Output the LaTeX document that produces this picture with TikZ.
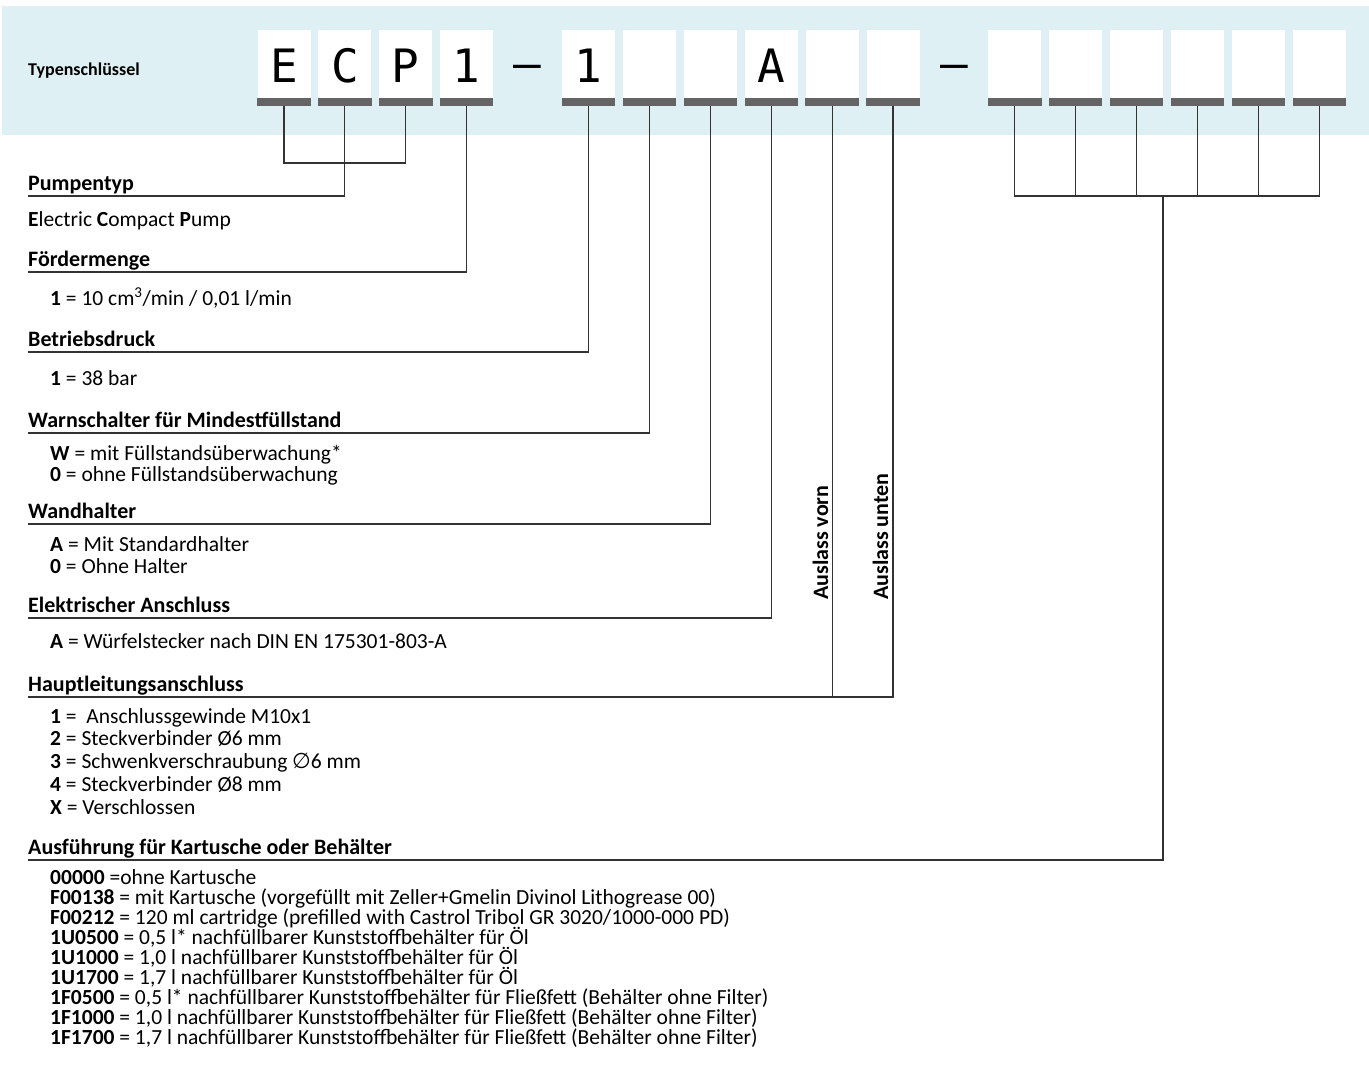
\documentclass[tikz,border=0pt]{standalone}
\usepackage{fontspec}
\setmainfont{Carlito}
\newfontfamily\keyfont{DejaVu Sans Mono}
\newfontfamily\dsym{DejaVu Sans}
\definecolor{bandc}{HTML}{DFF0F4}
\definecolor{barc}{HTML}{646464}
\definecolor{linec}{HTML}{333333}
\begin{document}
\begin{tikzpicture}[x=1pt,y=-1pt,
  keybox/.style={fill=white, minimum width=53pt, minimum height=76pt, inner sep=0, anchor=north},
  conn/.style={draw=linec, line width=1.1pt},
  head/.style={anchor=base west, inner sep=0, font=\fontsize{22}{24}\selectfont\bfseries},
  item/.style={anchor=base west, inner sep=0, font=\fontsize{21.5}{24}\selectfont},
  keych/.style={anchor=base, inner sep=0, font=\keyfont\fontsize{46}{50}\selectfont}]
\useasboundingbox (0,0) rectangle (1369,1073);
\fill[bandc] (2,6) rectangle (1369,135);
\node[anchor=base west, inner sep=0, font=\fontsize{18}{20}\selectfont\bfseries] (ts) at (28,76) {Typenschlüssel};
% key boxes
\foreach \i in {0,1,2,3,5,6,7,8,9,10,12,13,14,15,16,17} {
  \node[keybox] (b\i) at ({284+60.9*\i},30) {};
  \fill[barc] ([yshift=8pt]b\i.south west) rectangle (b\i.south east);
}
\foreach \i/\t in {0/E,1/C,2/P,3/1,5/1,8/A} {
  \node[keych] (c\i) at ({284+60.9*\i},83) {\t};
}
\node[keych] (d1) at ({284+60.9*4},80) {–};
\node[keych] (d2) at ({284+60.9*11},80) {–};
% headings
\node[head] (h1) at (28,190) {Pumpentyp};
\node[item] (t1) at (28,226) {\textbf{E}lectric \textbf{C}ompact \textbf{P}ump};
\node[head] (h2) at (28,266) {Fördermenge};
\node[item] (t2) at (50,305) {\textbf{1} = 10 cm\textsuperscript{3}/min / 0,01 l/min};
\node[head] (h3) at (28,346) {Betriebsdruck};
\node[item] (t3) at (50,385) {\textbf{1} = 38 bar};
\node[head] (h4) at (28,427) {Warnschalter für Mindestfüllstand};
\node[item] (t4a) at (50,460) {\textbf{W} = mit Füllstandsüberwachung*};
\node[item] (t4b) at (50,481) {\textbf{0} = ohne Füllstandsüberwachung};
\node[head] (h5) at (28,518) {Wandhalter};
\node[item] (t5a) at (50,551) {\textbf{A} = Mit Standardhalter};
\node[item] (t5b) at (50,573) {\textbf{0} = Ohne Halter};
\node[head] (h6) at (28,612) {Elektrischer Anschluss};
\node[item] (t6) at (50,648) {\textbf{A} = Würfelstecker nach DIN EN 175301-803-A};
\node[head] (h7) at (28,691) {Hauptleitungsanschluss};
\node[item] (t7a) at (50,723) {\textbf{1} = \ Anschlussgewinde M10x1};
\node[item] (t7b) at (50,745) {\textbf{2} = Steckverbinder Ø6 mm};
\node[item] (t7c) at (50,768) {\textbf{3} = Schwenkverschraubung {\dsym ∅}6 mm};
\node[item] (t7d) at (50,791) {\textbf{4} = Steckverbinder Ø8 mm};
\node[item] (t7e) at (50,814) {\textbf{X} = Verschlossen};
\node[head] (h8) at (28,854) {Ausführung für Kartusche oder Behälter};
\node[item] (t8a) at (50,884) {\textbf{00000} =ohne Kartusche};
\node[item] (t8b) at (50,904) {\textbf{F00138} = mit Kartusche (vorgefüllt mit Zeller+Gmelin Divinol Lithogrease 00)};
\node[item] (t8c) at (50,924) {\textbf{F00212} = 120 ml cartridge (prefilled with Castrol Tribol GR 3020/1000-000 PD)};
\node[item] (t8d) at (50,944) {\textbf{1U0500} = 0,5 l* nachfüllbarer Kunststoffbehälter für Öl};
\node[item] (t8e) at (50,964) {\textbf{1U1000} = 1,0 l nachfüllbarer Kunststoffbehälter für Öl};
\node[item] (t8f) at (50,984) {\textbf{1U1700} = 1,7 l nachfüllbarer Kunststoffbehälter für Öl};
\node[item] (t8g) at (50,1004) {\textbf{1F0500} = 0,5 l* nachfüllbarer Kunststoffbehälter für Fließfett (Behälter ohne Filter)};
\node[item] (t8h) at (50,1024) {\textbf{1F1000} = 1,0 l nachfüllbarer Kunststoffbehälter für Fließfett (Behälter ohne Filter)};
\node[item] (t8i) at (50,1044) {\textbf{1F1700} = 1,7 l nachfüllbarer Kunststoffbehälter für Fließfett (Behälter ohne Filter)};
\node[head, rotate=90] (av) at (828,600) {Auslass vorn};
\node[head, rotate=90] (au) at (888,600) {Auslass unten};
% underline ends
\coordinate (u1) at (28,196);
\coordinate (u2) at (28,272);
\coordinate (u3) at (28,352);
\coordinate (u4) at (28,433);
\coordinate (u5) at (28,524);
\coordinate (u6) at (28,618);
\coordinate (u7) at (28,697);
\coordinate (u8) at (28,860);
\coordinate (j1) at (0,163);
\coordinate (j2) at (0,196);
\coordinate (j3) at (1163,196);
% connectors
\draw[conn] (b0.south) |- (b2.south |- j1) -- (b2.south);
\draw[conn] (b1.south) |- (u1);
\draw[conn] (b3.south) |- (u2);
\draw[conn] (b5.south) |- (u3);
\draw[conn] (b6.south) |- (u4);
\draw[conn] (b7.south) |- (u5);
\draw[conn] (b8.south) |- (u6);
\draw[conn] (b10.south) |- (u7);
\draw[conn] (b9.south) -- (b9.south |- u7);
\draw[conn] (b12.south) |- (b17.south |- j2) -- (b17.south);
\foreach \i in {13,14,15,16} { \draw[conn] (b\i.south) -- (b\i.south |- j2); }
\draw[conn] (j3) |- (u8);
\end{tikzpicture}
\end{document}
